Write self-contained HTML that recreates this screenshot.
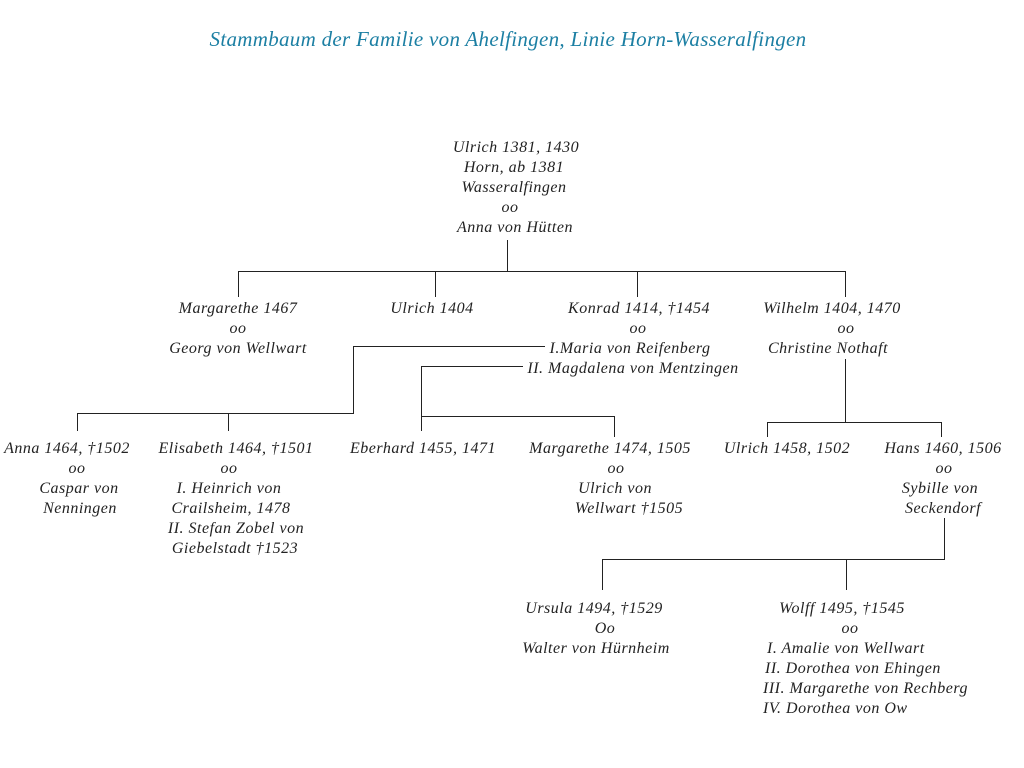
<!DOCTYPE html>
<html><head><meta charset="utf-8"><style>
html,body{margin:0;padding:0;background:#fff;}
svg{display:block;}
text{font-family:"Liberation Serif",serif;font-style:italic;font-size:16px;letter-spacing:0.5px;fill:#222;}
.t{font-size:21px;letter-spacing:0.3px;fill:#1c7fa3;}
</style></head><body>
<svg width="1024" height="768" viewBox="0 0 1024 768">
<text class="t" x="508" y="46" text-anchor="middle">Stammbaum der Familie von Ahelfingen, Linie Horn-Wasseralfingen</text>
<g stroke="#222" stroke-width="1" fill="none" shape-rendering="crispEdges">
<path d="M507.5 240V271.5M238.5 271.5H845.5M238.5 271V297M435.5 271V297M637.5 271V297M845.5 271V297"/>
<path d="M545 346.5H353.5V413.5H77.5V431M228.5 413V431"/>
<path d="M523 366.5H421.5V431M421.5 416.5H614.5V437"/>
<path d="M845.5 359V422.5M767.5 422.5H941.5M767.5 422V437M941.5 422V437"/>
<path d="M944.5 518V559.5H602.5V590M846.5 559V590"/>
</g>
<g text-anchor="middle">
<text x="516" y="152">Ulrich 1381, 1430</text>
<text x="514" y="172">Horn, ab 1381</text>
<text x="514" y="192">Wasseralfingen</text>
<text x="510" y="212">oo</text>
<text x="515" y="232">Anna von Hütten</text>

<text x="238" y="313">Margarethe 1467</text>
<text x="238" y="333">oo</text>
<text x="238" y="353">Georg von Wellwart</text>
<text x="432" y="313">Ulrich 1404</text>
<text x="639" y="313">Konrad 1414, †1454</text>
<text x="638" y="333">oo</text>
<text x="630" y="353">I.Maria von Reifenberg</text>
<text x="633" y="373">II. Magdalena von Mentzingen</text>
<text x="832" y="313">Wilhelm 1404, 1470</text>
<text x="846" y="333">oo</text>
<text x="828" y="353">Christine Nothaft</text>

<text x="67" y="453">Anna 1464, †1502</text>
<text x="77" y="473">oo</text>
<text x="79" y="493">Caspar von</text>
<text x="80" y="513">Nenningen</text>
<text x="236" y="453">Elisabeth 1464, †1501</text>
<text x="229" y="473">oo</text>
<text x="229" y="493">I. Heinrich von</text>
<text x="231" y="513">Crailsheim, 1478</text>
<text x="236" y="533">II. Stefan Zobel von</text>
<text x="235" y="553">Giebelstadt †1523</text>
<text x="423" y="453">Eberhard 1455, 1471</text>
<text x="610" y="453">Margarethe 1474, 1505</text>
<text x="616" y="473">oo</text>
<text x="615" y="493">Ulrich von</text>
<text x="629" y="513">Wellwart †1505</text>
<text x="787" y="453">Ulrich 1458, 1502</text>
<text x="943" y="453">Hans 1460, 1506</text>
<text x="944" y="473">oo</text>
<text x="940" y="493">Sybille von</text>
<text x="943" y="513">Seckendorf</text>

<text x="594" y="613">Ursula 1494, †1529</text>
<text x="605" y="633">Oo</text>
<text x="596" y="653">Walter von Hürnheim</text>
<text x="842" y="613">Wolff 1495, †1545</text>
<text x="850" y="633">oo</text>
</g>
<text x="767" y="653">I. Amalie von Wellwart</text>
<text x="765" y="673">II. Dorothea von Ehingen</text>
<text x="763" y="693">III. Margarethe von Rechberg</text>
<text x="763" y="713">IV. Dorothea von Ow</text>
</svg>
</body></html>
